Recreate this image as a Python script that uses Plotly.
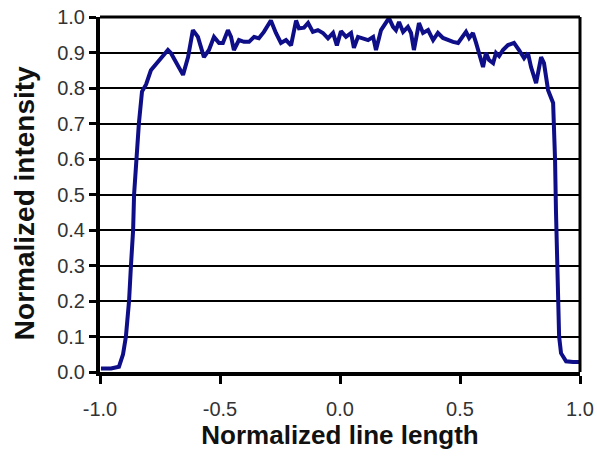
import plotly.graph_objects as go

# Normalized line length (x) and normalized intensity (y)
line_length = [
    -0.996, -0.954, -0.921, -0.904, -0.892, -0.879, -0.871, -0.862, -0.858, -0.850,
    -0.838, -0.825, -0.808, -0.788, -0.754, -0.717, -0.704, -0.683, -0.654, -0.633,
    -0.613, -0.592, -0.567, -0.546, -0.525, -0.504, -0.488, -0.467, -0.454, -0.442,
    -0.421, -0.400, -0.379, -0.358, -0.338, -0.317, -0.288, -0.267, -0.246, -0.225,
    -0.204, -0.183, -0.171, -0.150, -0.133, -0.113, -0.092, -0.071, -0.050, -0.029,
    -0.013, 0.004, 0.025, 0.046, 0.058, 0.075, 0.096, 0.117, 0.138, 0.150,
    0.171, 0.192, 0.204, 0.221, 0.233, 0.246, 0.263, 0.283, 0.296, 0.308,
    0.329, 0.346, 0.367, 0.388, 0.408, 0.429, 0.450, 0.471, 0.492, 0.513,
    0.525, 0.538, 0.554, 0.567, 0.579, 0.596, 0.608, 0.621, 0.638, 0.650,
    0.663, 0.679, 0.700, 0.725, 0.746, 0.767, 0.783, 0.796, 0.817, 0.838,
    0.850, 0.867, 0.888, 0.892, 0.896, 0.900, 0.904, 0.908, 0.913, 0.921,
    0.942, 0.971, 1.000,
]
intensity = [
    0.010, 0.010, 0.015, 0.050, 0.100, 0.200, 0.300, 0.400, 0.500, 0.600,
    0.700, 0.790, 0.810, 0.850, 0.879, 0.907, 0.898, 0.870, 0.837, 0.887,
    0.963, 0.944, 0.887, 0.907, 0.944, 0.927, 0.927, 0.963, 0.944, 0.907,
    0.935, 0.930, 0.930, 0.944, 0.940, 0.958, 0.990, 0.955, 0.927, 0.935,
    0.920, 0.990, 0.968, 0.970, 0.983, 0.958, 0.963, 0.955, 0.940, 0.955,
    0.920, 0.960, 0.944, 0.955, 0.913, 0.944, 0.940, 0.935, 0.944, 0.907,
    0.963, 0.983, 0.997, 0.972, 0.963, 0.986, 0.958, 0.972, 0.955, 0.907,
    0.983, 0.955, 0.963, 0.935, 0.955, 0.941, 0.935, 0.930, 0.927, 0.944,
    0.958, 0.941, 0.955, 0.927, 0.899, 0.859, 0.899, 0.879, 0.870, 0.899,
    0.890, 0.907, 0.921, 0.927, 0.907, 0.884, 0.899, 0.859, 0.814, 0.887,
    0.870, 0.794, 0.758, 0.700, 0.600, 0.450, 0.300, 0.200, 0.100, 0.053,
    0.030, 0.028, 0.028,
]

x_ticks = [-1.0, -0.5, 0.0, 0.5, 1.0]
x_tick_labels = ["-1.0", "-0.5", "0.0", "0.5", "1.0"]
y_ticks = [i / 10 for i in range(11)]
y_tick_labels = [f"{v:.1f}" for v in y_ticks]

fig = go.Figure()
fig.add_trace(go.Scatter(
    x=line_length, y=intensity, mode="lines",
    line=dict(color="#0e0e88", width=4, shape="linear"),
    showlegend=False,
))

font_family = "Liberation Sans, Arial, sans-serif"

fig.update_layout(
    width=597, height=458,
    margin=dict(l=100, r=17, t=17, b=86),
    paper_bgcolor="white", plot_bgcolor="white",
    font=dict(family=font_family, color="black"),
    xaxis=dict(
        range=[-1.0, 1.0], tickvals=x_ticks, ticktext=x_tick_labels,
        automargin=False,
        showgrid=False, zeroline=False,
        showline=True, linecolor="black", linewidth=4,
        ticks="outside", ticklen=8, tickwidth=3, tickcolor="black",
        ticklabelstandoff=8, ticklabeloverflow="allow",
        tickfont=dict(size=20, color="#333333"),
        title=dict(text="<b>Normalized line length</b>", font=dict(size=26, color="#111111"), standoff=6),
    ),
    yaxis=dict(
        range=[0.0, 1.0], tickvals=y_ticks, ticktext=y_tick_labels,
        automargin=False,
        showgrid=True, gridcolor="black", gridwidth=2, zeroline=False,
        showline=True, linecolor="black", linewidth=4,
        ticks="outside", ticklen=7, tickwidth=3, tickcolor="black",
        ticklabeloverflow="allow",
        tickfont=dict(size=20, color="#333333"),
    ),
    annotations=[
        dict(text="<b>Normalized intensity</b>", xref="paper", yref="paper",
             x=-0.158, y=0.476, xanchor="center", yanchor="middle",
             textangle=-90, showarrow=False,
             font=dict(size=28, color="#111111")),
    ],
    shapes=[
        dict(type="line", xref="paper", yref="paper", x0=0, x1=1, y0=1, y1=1,
             line=dict(color="black", width=3)),
        dict(type="line", xref="paper", yref="paper", x0=1, x1=1, y0=0, y1=1,
             line=dict(color="black", width=3)),
    ],
)

fig.write_html("out.html", config={"displayModeBar": False},
               post_script="document.body.style.margin='0';")
